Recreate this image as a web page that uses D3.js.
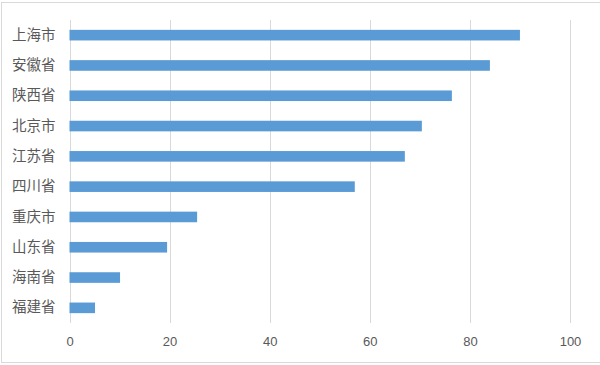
<!DOCTYPE html>
<html><head><meta charset="utf-8">
<script src="https://cdn.jsdelivr.net/npm/d3@7"></script>
<style>html,body{margin:0;padding:0;background:#fff;overflow:hidden}</style>
</head><body>
<script>
const categories = ["上海市","安徽省","陕西省","北京市","江苏省","四川省","重庆市","山东省","海南省","福建省"];
const values = [90.0, 84.0, 76.4, 70.4, 67.0, 57.0, 25.5, 19.5, 10.1, 5.1];
const xTicks = [0, 20, 40, 60, 80, 100];

const W = 600, H = 365;
const svg = d3.select("body").append("svg").attr("width", W).attr("height", H);
svg.append("rect").attr("x", 1.5).attr("y", 2.5).attr("width", 600).attr("height", 360)
  .attr("fill", "#fff").attr("stroke", "#d9d9d9");

const x = d3.scaleLinear().domain([0, 100]).range([69.5, 570]);
const y = d3.scaleBand().domain(categories).range([20, 323]).paddingInner(0.65).paddingOuter(0.325);
const font = "'Noto Sans CJK SC', 'Microsoft YaHei', sans-serif";

const grid = svg.append("g");
grid.selectAll("line").data(xTicks).join("line")
  .attr("x1", d => Math.round(x(d)) + 0.5).attr("x2", d => Math.round(x(d)) + 0.5)
  .attr("y1", 20).attr("y2", 323)
  .attr("stroke", "#d9d9d9").attr("stroke-width", 1);

svg.append("g").selectAll("rect").data(values).join("rect")
  .attr("x", x(0)).attr("y", (d, i) => y(categories[i]))
  .attr("width", d => x(d) - x(0)).attr("height", y.bandwidth())
  .attr("fill", "#5b9bd5");

const xAxis = svg.append("g").attr("transform", "translate(0,323)")
  .call(d3.axisBottom(x).tickValues(xTicks).tickSize(0).tickPadding(14));
xAxis.select(".domain").remove();
xAxis.selectAll("text").attr("fill", "#595959").style("font-family", "'Liberation Sans', Arial, sans-serif").style("font-size", "13px");

const yAxis = svg.append("g").attr("transform", "translate(55.5,0)")
  .call(d3.axisLeft(y).tickSize(0).tickPadding(0));
yAxis.select(".domain").remove();
yAxis.selectAll("text").attr("fill", "#595959").style("font-family", font).style("font-size", "14.5px");
</script>
</body></html>
